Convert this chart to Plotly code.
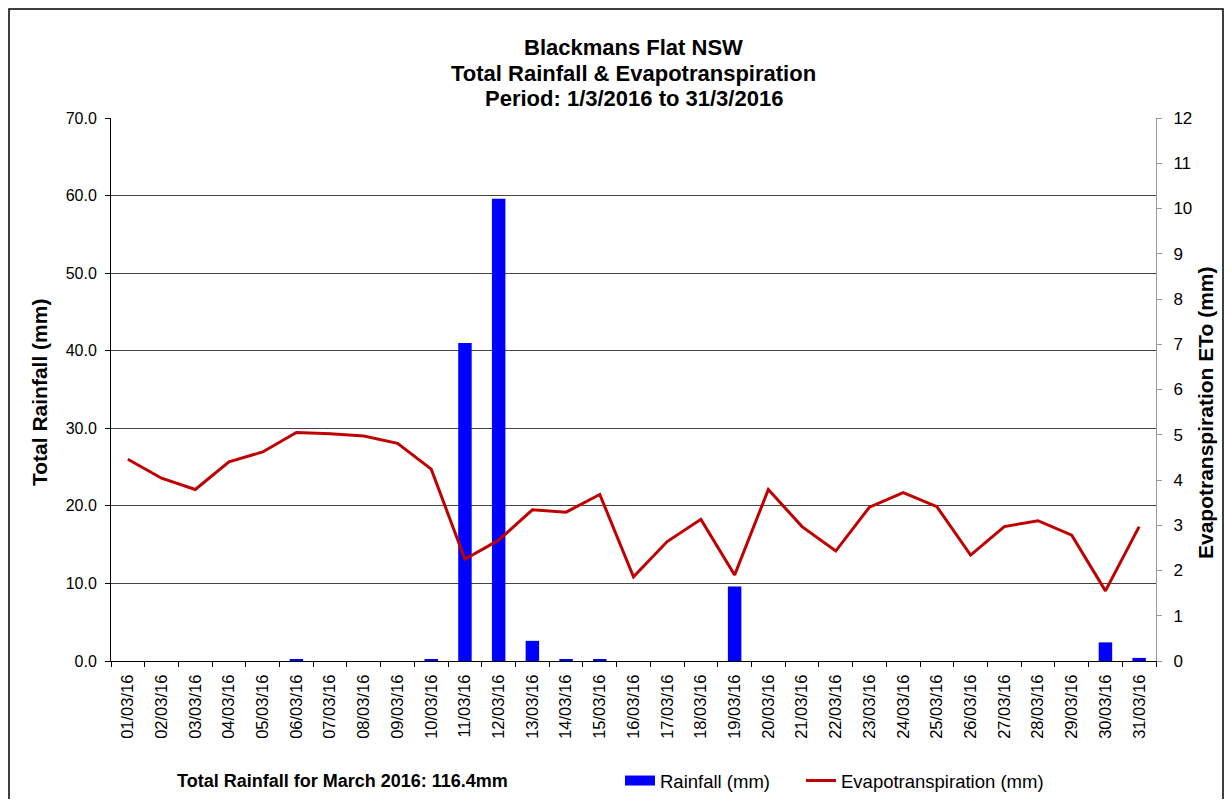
import plotly.graph_objects as go

# daily data, March 2016
dates = ["%02d/03/16" % d for d in range(1, 32)]
rainfall = [0, 0, 0, 0, 0, 0.2, 0, 0, 0, 0.2,
            41.0, 59.6, 2.6, 0.2, 0.2, 0, 0, 0, 9.6, 0,
            0, 0, 0, 0, 0, 0, 0, 0, 0, 2.4, 0.4]
eto = [4.46, 4.04, 3.79, 4.40, 4.62, 5.05, 5.02, 4.97, 4.81, 4.24,
       2.25, 2.67, 3.34, 3.29, 3.68, 1.86, 2.64, 3.13, 1.90, 3.79,
       2.97, 2.43, 3.40, 3.72, 3.41, 2.34, 2.97, 3.10, 2.78, 1.55, 2.97]
rain_ticks = [0, 10, 20, 30, 40, 50, 60, 70]
eto_ticks = list(range(0, 13))
title_lines = ["Blackmans Flat NSW", "Total Rainfall & Evapotranspiration",
               "Period: 1/3/2016 to 31/3/2016"]

font = "Liberation Sans, Arial, sans-serif"

# page body has an 8px margin on every side, keep the page inside the window
W, H = 1216, 791
PX0, PX1, PY0, PY1 = 111, 1156, 118, 661   # plot area in page pixels


def px(x):
    return (x - PX0) / (PX1 - PX0)


def py(y):
    return (PY1 - y) / (PY1 - PY0)


fig = go.Figure()
fig.add_trace(go.Bar(x=dates, y=rainfall, name="Rainfall (mm)", showlegend=False,
                     marker=dict(color="#0000FF", line=dict(width=0))))
fig.add_trace(go.Scatter(x=dates, y=eto, name="Evapotranspiration (mm)", yaxis="y2",
                         mode="lines", line=dict(color="#C00000", width=3),
                         showlegend=False))
# legend-only entries (Excel style wide keys)
fig.add_trace(go.Scatter(x=[None], y=[None], name="Rainfall (mm)", mode="lines",
                         line=dict(color="#0000FF", width=10), legend="legend"))
fig.add_trace(go.Scatter(x=[None], y=[None], name="Evapotranspiration (mm)", mode="lines",
                         line=dict(color="#C00000", width=3), yaxis="y2", legend="legend2"))

fig.update_layout(
    width=W, height=H,
    margin=dict(l=PX0 - 8, r=8 + W - PX1, t=PY0 - 8, b=8 + H - PY1, autoexpand=False),
    paper_bgcolor="white", plot_bgcolor="white",
    font=dict(family=font, size=16, color="black"),
    bargap=0.6,
    xaxis=dict(type="category", tickangle=-90, showline=True, linecolor="black",
               ticks="outside", tickson="boundaries", ticklen=5, tickcolor="black",
               showgrid=False, tickfont=dict(size=16.5), ticklabelstandoff=6),
    yaxis=dict(range=[0, 70], tickvals=rain_ticks, tickformat=".1f",
               showline=True, linecolor="black", ticks="outside", ticklen=5,
               tickcolor="black", gridcolor="#444444", gridwidth=1,
               tickfont=dict(size=16), ticklabelstandoff=5, zeroline=False),
    yaxis2=dict(range=[0, 12], tickvals=eto_ticks, overlaying="y", side="right",
                showline=True, linecolor="#999999", ticks="outside", ticklen=5,
                tickcolor="#999999", showgrid=False, zeroline=False,
                tickfont=dict(size=17), ticklabelstandoff=8),
    legend=dict(orientation="h", x=px(620), y=py(781), xanchor="left", yanchor="middle",
                font=dict(size=18.5), bgcolor="rgba(0,0,0,0)"),
    legend2=dict(orientation="h", x=px(801), y=py(781), xanchor="left", yanchor="middle",
                 font=dict(size=18.5), bgcolor="rgba(0,0,0,0)"),
)

# title, one annotation per line to keep Excel's tight line spacing
for i, line in enumerate(title_lines):
    fig.add_annotation(text="<b>%s</b>" % line, xref="paper", yref="paper",
                       x=0.5, y=py(47 + 26 * i), xanchor="center", yanchor="middle",
                       showarrow=False, font=dict(size=22, family=font))

# axis titles
fig.add_annotation(text="<b>Total Rainfall (mm)</b>", xref="paper", yref="paper",
                   x=px(40), y=py(393), xanchor="center", yanchor="middle",
                   textangle=-90, showarrow=False, font=dict(size=21, family=font))
fig.add_annotation(text="<b>Evapotranspiration ETo (mm)</b>", xref="paper", yref="paper",
                   x=px(1205), y=py(413), xanchor="center", yanchor="middle",
                   textangle=-90, showarrow=False, font=dict(size=21, family=font))

fig.add_annotation(text="<b>Total Rainfall for March 2016: 116.4mm</b>",
                   xref="paper", yref="paper", x=px(175), y=py(781),
                   xanchor="left", yanchor="middle", showarrow=False,
                   font=dict(size=18, family=font))

# outer chart border
fig.add_shape(type="rect", xref="paper", yref="paper",
              x0=px(9), x1=px(1223), y0=py(815), y1=py(9),
              line=dict(color="black", width=1.5), fillcolor="rgba(0,0,0,0)")

fig.write_html("out.html")
